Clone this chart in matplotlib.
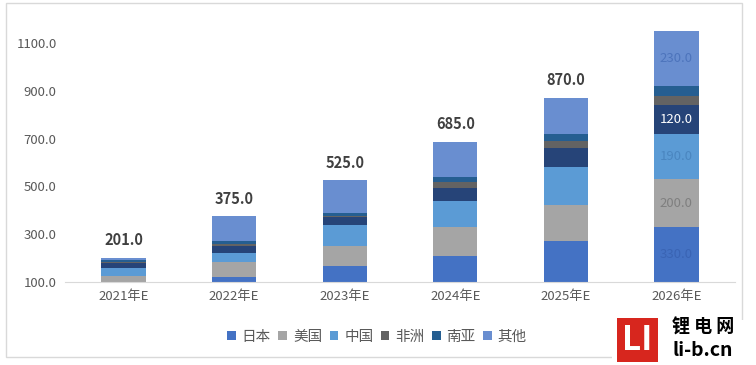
import matplotlib
matplotlib.use("Agg")
import matplotlib.pyplot as plt
from matplotlib.patches import Rectangle
import numpy as np

plt.rcParams['font.family'] = ['Noto Sans CJK SC', 'DejaVu Sans']

years = ['2021年E', '2022年E', '2023年E', '2024年E', '2025年E', '2026年E']
japan = [70, 120, 165, 210, 270, 330]
usa = [55, 65, 85, 120, 150, 200]
china = [35, 35, 90, 110, 160, 190]
unlisted = [20, 30, 30, 55, 80, 120]   # series without legend entry
africa = [5, 8, 5, 25, 30, 40]
south_asia = [8, 12, 15, 20, 30, 40]
others = [8, 105, 135, 145, 150, 230]
total_labels = ['201.0', '375.0', '525.0', '685.0', '870.0', '']

series = [
    ('日本', japan, '#4472C4', '#3A64B4', True),
    ('美国', usa, '#A5A5A5', '#7F7F7F', True),
    ('中国', china, '#5B9BD5', '#4A86C0', True),
    ('', unlisted, '#264478', 'white', False),
    ('非洲', africa, '#636363', '#404040', True),
    ('南亚', south_asia, '#255E91', '#1F4E79', True),
    ('其他', others, '#698ED0', '#4D74BC', True),
]

fig = plt.figure(figsize=(7.56, 3.65), dpi=100)
ax = fig.add_axes([65/756, 1-282/365, (735-65)/756, (282-19)/365])

x = np.arange(len(years))
width = 0.4
ymin = 100
bottom = np.zeros(len(years))
handles = []
labels = []
for name, vals, col, tcol, in_leg in series:
    vals = np.array(vals, dtype=float)
    b = ax.bar(x, vals, width, bottom=bottom, color=col, zorder=2)
    if in_leg:
        handles.append(b)
        labels.append(name)
    i = len(years) - 1
    if name not in ('非洲', '南亚'):
        lo = max(bottom[i], ymin)
        hi = bottom[i] + vals[i]
        ax.text(x[i], (lo + hi) / 2, f'{vals[i]:.1f}', ha='center', va='center',
                fontsize=9.5, color=tcol, zorder=3)
    bottom = bottom + vals

for xi, tot, lab in zip(x, bottom, total_labels):
    if lab:
        ax.annotate(lab, (xi, tot), xytext=(0, 7), textcoords='offset points',
                    ha='center', va='bottom', fontsize=10.5, fontweight='bold',
                    color='#404040')

ax.set_ylim(100, 1200)
ax.set_xlim(-0.53, 5.53)
ax.set_yticks([100, 300, 500, 700, 900, 1100])
ax.set_yticklabels([f'{v:.1f}' for v in [100, 300, 500, 700, 900, 1100]])
ax.set_xticks(x)
ax.set_xticklabels(years)
for s in ['top', 'right', 'left']:
    ax.spines[s].set_visible(False)
ax.spines['bottom'].set_color('#D9D9D9')
ax.tick_params(axis='y', length=0, labelsize=9.5, labelcolor='#595959', pad=6)
ax.tick_params(axis='x', length=0, labelsize=9.5, labelcolor='#595959', pad=6)

fig.legend(handles, labels, loc='center', bbox_to_anchor=(377/756, 1-337/365),
           ncol=6, frameon=False, fontsize=10.5, labelcolor='#595959',
           handlelength=0.6, handleheight=0.6, handletextpad=0.4, columnspacing=0.5)

# chart border
fig.patches.append(Rectangle((6/756, 1-357/365), (742-6)/756, (357-3)/365,
                             transform=fig.transFigure, fill=False,
                             edgecolor='#D9D9D9', linewidth=1, zorder=0))

# watermark logo
fig.patches.append(Rectangle((612/756, 0), 144/756, 45/365,
                             transform=fig.transFigure, facecolor='white',
                             edgecolor='none', zorder=4))
fig.patches.append(Rectangle((617/756, 1-362/365), 41/756, 44/365,
                             transform=fig.transFigure, facecolor='#D7261E',
                             edgecolor='none', zorder=6))
fig.text(637.5/756, 1-341/365, 'LI', ha='center', va='center', color='white',
         fontsize=24, fontweight='bold', zorder=7)
fig.text(703/756, 1-327/365, '锂 电 网', ha='center', va='center', color='black',
         fontsize=13, fontweight='bold', zorder=7)
fig.text(703/756, 1-351/365, 'li-b.cn', ha='center', va='center', color='black',
         fontsize=14, fontweight='bold', zorder=7)

fig.savefig('out.png', dpi=100)
